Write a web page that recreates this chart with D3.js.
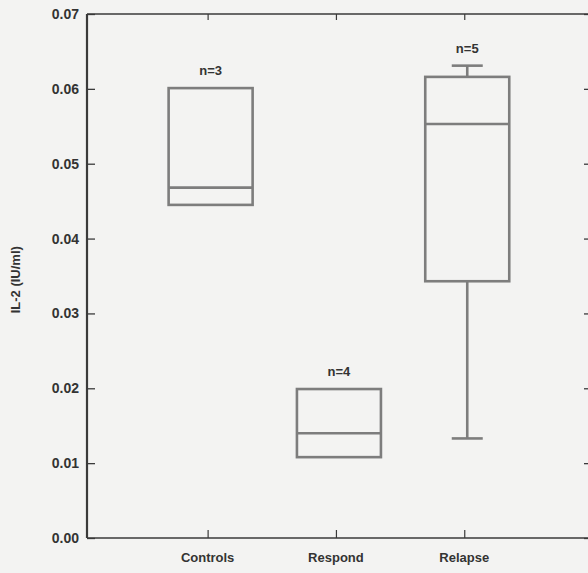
<!DOCTYPE html>
<html>
<head>
<meta charset="utf-8">
<script src="https://cdn.jsdelivr.net/npm/d3@7"></script>
<style>
  html, body { margin: 0; padding: 0; background: #f3f3f2; }
  svg { display: block; }
  text { font-family: "Liberation Sans", Arial, sans-serif; font-weight: bold; fill: #333; }
</style>
</head>
<body>
<svg id="chart" width="588" height="573"></svg>
<script>
// IL-2 levels by patient group
const categories = ["Controls", "Respond", "Relapse"];
const counts = ["n=3", "n=4", "n=5"];
const whiskerLow = [null, null, 0.0133];
const boxLow = [0.0445, 0.0108, 0.0343];
const medians = [0.0468, 0.0140, 0.0553];
const boxHigh = [0.0601, 0.0199, 0.0616];
const whiskerHigh = [null, null, 0.0631];
const yTicks = [0.00, 0.01, 0.02, 0.03, 0.04, 0.05, 0.06, 0.07];

const svg = d3.select("#chart");
const plotLeft = 87, plotRight = 590, plotTop = 14, plotBottom = 538;

const x = d3.scaleLinear().domain([0.06, 3.98]).range([plotLeft, plotRight]);
const y = d3.scaleLinear().domain([0, 0.07]).range([plotBottom, plotTop]);

const axisColor = "#3a3a3a";
const boxColor = "#7d7d7d";

// Left axis with inward ticks
const yAxis = svg.append("g").attr("transform", `translate(${plotLeft},0)`)
  .call(d3.axisRight(y).tickValues(yTicks).tickSize(8).tickFormat(""));
yAxis.select(".domain").remove();
yAxis.selectAll("line").attr("stroke", axisColor).attr("stroke-width", 1.3);

svg.append("g").selectAll("text").data(yTicks).join("text")
  .attr("x", plotLeft - 8).attr("y", d => y(d)).attr("dy", "0.36em")
  .attr("text-anchor", "end").style("font-size", "14px")
  .text(d => d3.format(".2f")(d));

// Right axis with inward ticks
const yAxisR = svg.append("g").attr("transform", `translate(${plotRight},0)`)
  .call(d3.axisLeft(y).tickValues(yTicks).tickSize(6).tickFormat(""));
yAxisR.select(".domain").remove();
yAxisR.selectAll("line").attr("stroke", axisColor).attr("stroke-width", 1.3);

// Bottom and top axes, ticks at category positions
const xIdx = [1, 2, 3];
const xb = svg.append("g").attr("transform", `translate(0,${plotBottom})`)
  .call(d3.axisTop(x).tickValues(xIdx).tickSize(8).tickFormat(""));
xb.select(".domain").remove();
xb.selectAll("line").attr("stroke", axisColor).attr("stroke-width", 1.2);

const xt = svg.append("g").attr("transform", `translate(0,${plotTop})`)
  .call(d3.axisBottom(x).tickValues(xIdx).tickSize(6).tickFormat(""));
xt.select(".domain").remove();
xt.selectAll("line").attr("stroke", axisColor).attr("stroke-width", 1.2);

// Frame
svg.append("line").attr("x1", plotLeft).attr("x2", plotLeft).attr("y1", plotTop).attr("y2", plotBottom)
  .attr("stroke", axisColor).attr("stroke-width", 2.2);
svg.append("line").attr("x1", plotLeft).attr("x2", plotRight).attr("y1", plotBottom).attr("y2", plotBottom)
  .attr("stroke", axisColor).attr("stroke-width", 1.5);
svg.append("line").attr("x1", plotLeft).attr("x2", plotRight).attr("y1", plotTop).attr("y2", plotTop)
  .attr("stroke", axisColor).attr("stroke-width", 1.5);

// Category labels
svg.append("g").selectAll("text").data(categories).join("text")
  .attr("x", (d, i) => x(i + 1)).attr("y", 562)
  .attr("text-anchor", "middle").style("font-size", "13px")
  .text(d => d);

// Y axis title
svg.append("text")
  .attr("transform", `translate(20,${y(0.0345)}) rotate(-90)`)
  .attr("text-anchor", "middle").style("font-size", "13px")
  .text("IL-2 (IU/ml)");

// Boxes
const boxW = 84, capW = 31;
const data = categories.map((c, i) => ({
  c, i, lo: whiskerLow[i], q1: boxLow[i], med: medians[i], q3: boxHigh[i], hi: whiskerHigh[i], n: counts[i]
}));

const g = svg.append("g");
data.forEach(d => {
  const cx = x(d.i + 1) + 3;
  const gg = g.append("g").attr("stroke", boxColor).attr("stroke-width", 2.6).attr("fill", "none");
  if (d.hi !== null) {
    gg.append("line").attr("x1", cx).attr("x2", cx).attr("y1", y(d.q3)).attr("y2", y(d.hi));
    gg.append("line").attr("x1", cx - capW / 2).attr("x2", cx + capW / 2).attr("y1", y(d.hi)).attr("y2", y(d.hi));
  }
  if (d.lo !== null) {
    gg.append("line").attr("x1", cx).attr("x2", cx).attr("y1", y(d.q1)).attr("y2", y(d.lo));
    gg.append("line").attr("x1", cx - capW / 2).attr("x2", cx + capW / 2).attr("y1", y(d.lo)).attr("y2", y(d.lo));
  }
  gg.append("rect").attr("x", cx - boxW / 2).attr("y", y(d.q3))
    .attr("width", boxW).attr("height", y(d.q1) - y(d.q3));
  gg.append("line").attr("x1", cx - boxW / 2).attr("x2", cx + boxW / 2)
    .attr("y1", y(d.med)).attr("y2", y(d.med));
  const topVal = d.hi !== null ? d.hi : d.q3;
  g.append("text").attr("x", cx).attr("y", y(topVal) - 13)
    .attr("text-anchor", "middle").style("font-size", "13px").text(d.n);
});
</script>
</body>
</html>
